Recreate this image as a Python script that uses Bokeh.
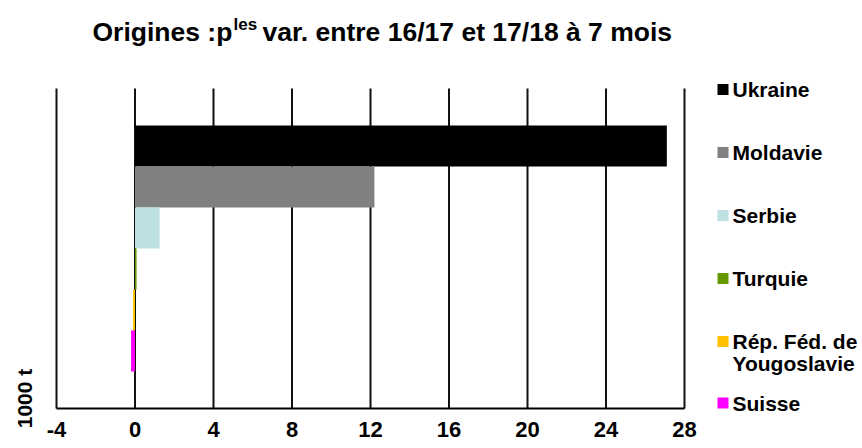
import math
from bokeh.plotting import figure
from bokeh.models import Range1d, Label, ColumnDataSource
from bokeh.embed import file_html
from bokeh.resources import INLINE

# ---------------- data ----------------
origins = ["Ukraine", "Moldavie", "Serbie", "Turquie",
           "Rép. Féd. de Yougoslavie", "Suisse"]
legend_lines = [["Ukraine"], ["Moldavie"], ["Serbie"], ["Turquie"],
                ["Rép. Féd. de", "Yougoslavie"], ["Suisse"]]
variations = [27.1, 12.2, 1.25, 0.08, -0.1, -0.2]
colors = ["#000000", "#808080", "#bde0e3", "#669900", "#ffc000", "#ff00ff"]
x_ticks = [-4, 0, 4, 8, 12, 16, 20, 24, 28]
title_main = "Origines :p"
title_sup = "les"
title_rest = "var. entre 16/17 et 17/18 à 7 mois"
unit_label = "1000 t"

# ---------------- layout (pixels) ----------------
W, H = 862, 448
PL, PR, PT, PB = 56, 684, 88, 408          # plot area in pixels
XMIN, XMAX = x_ticks[0], x_ticks[-1]
n = len(origins)
pad_cat = 0.9                               # empty space above/below the bars
YMIN, YMAX = -0.5 - pad_cat, n - 0.5 + pad_cat

ppx = (PR - PL) / (XMAX - XMIN)
ppy = (PB - PT) / (YMAX - YMIN)
x_start = XMIN - PL / ppx
x_end = XMAX + (W - PR) / ppx
y_start = YMIN - (H - PB) / ppy
y_end = YMAX + PT / ppy


def dx(px):
    return x_start + px / ppx


def dy(py):
    return y_end - py / ppy


FONT = "Liberation Sans"

pos = [n - 1 - i for i in range(n)]
src = ColumnDataSource(dict(origin=origins, pos=pos, var=variations, color=colors))

p = figure(width=W, height=H, title=None,
           x_range=Range1d(x_start, x_end), y_range=Range1d(y_start, y_end),
           x_axis_type=None, y_axis_type=None,
           toolbar_location=None, output_backend="svg", min_border=0)
p.outline_line_color = None
p.background_fill_color = "white"
p.border_fill_color = "white"

# vertical grid lines at the ticks
p.segment(x0=x_ticks, x1=x_ticks, y0=[YMIN] * len(x_ticks),
          y1=[YMAX] * len(x_ticks), line_color="#111111", line_width=2)

# bars
p.hbar(y="pos", left=0, right="var", height=1.0, fill_color="color",
       line_color=None, source=src)

# bottom axis line
p.segment(x0=[XMIN], x1=[XMAX], y0=[YMIN], y1=[YMIN],
          line_color="black", line_width=2)

# tick labels
for t in x_ticks:
    p.add_layout(Label(x=t, y=H - 429, x_units="data", y_units="screen",
                       text=str(t), text_align="center",
                       text_baseline="alphabetic", text_font=FONT,
                       text_font_style="bold", text_font_size="22px",
                       text_color="black"))

# unit label
p.add_layout(Label(x=24, y=H - 398, x_units="screen", y_units="screen",
                   text=unit_label, angle=math.pi / 2, text_align="center",
                   text_baseline="middle", text_font=FONT,
                   text_font_style="bold", text_font_size="21px",
                   text_color="black"))

# title with superscript
p.add_layout(Label(x=92, y=H - 31, x_units="screen", y_units="screen",
                   text=title_main, text_baseline="alphabetic",
                   text_font=FONT, text_font_style="bold",
                   text_font_size="26.5px", text_color="black"))
p.add_layout(Label(x=233, y=H - 24, x_units="screen", y_units="screen",
                   text=title_sup, text_baseline="alphabetic",
                   text_font=FONT, text_font_style="bold",
                   text_font_size="17px", text_color="black"))
p.add_layout(Label(x=262, y=H - 31, x_units="screen", y_units="screen",
                   text=title_rest, text_baseline="alphabetic",
                   text_font=FONT, text_font_style="bold",
                   text_font_size="26.5px", text_color="black"))

# legend
sq_px, txt_px = 722.5, 732
first_py, step, line_h = 89.0, 63.0, 21.5
sq_x, sq_y = [], []
py = first_py
for i, lines in enumerate(legend_lines):
    sq_x.append(dx(sq_px))
    sq_y.append(dy(py))
    for j, ln in enumerate(lines):
        p.add_layout(Label(x=txt_px, y=H - (py + j * line_h),
                           x_units="screen", y_units="screen", text=ln,
                           text_align="left", text_baseline="middle",
                           text_font=FONT, text_font_style="bold",
                           text_font_size="21px", text_color="black"))
    py = py + step + (len(lines) - 1) * (line_h - 23)
p.scatter(x=sq_x, y=sq_y, marker="square", size=11, fill_color=colors,
          line_color=None)

open("out.html", "w").write(file_html(p, INLINE))
